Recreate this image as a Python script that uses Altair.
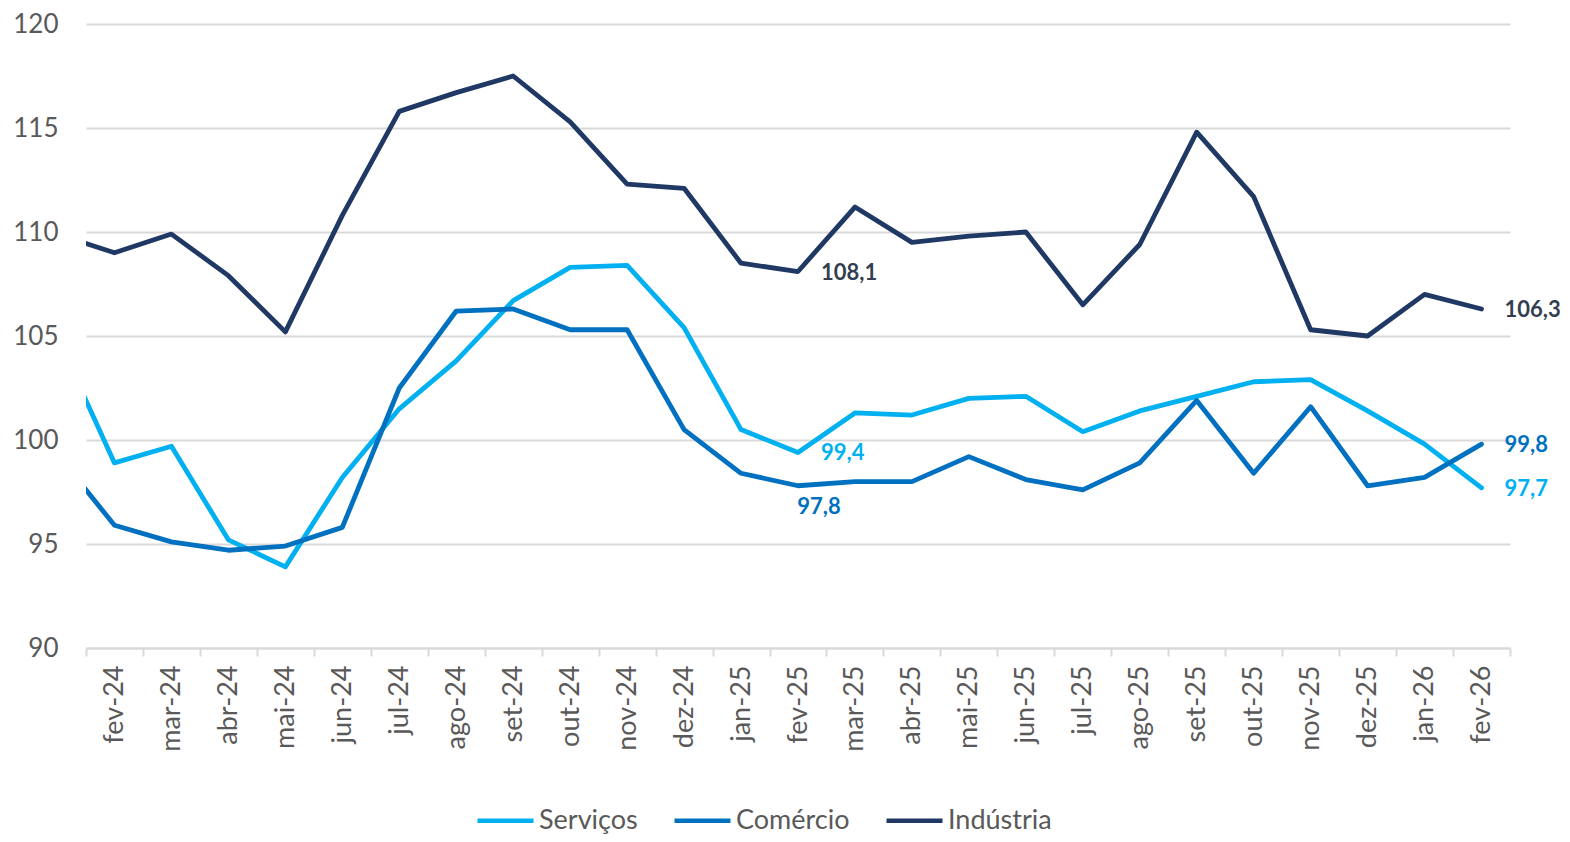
import json
import altair as alt
import pandas as pd

# ---- data (jan-24 lies just outside the visible axis; its segment is clipped) ----
months = ["jan-24", "fev-24", "mar-24", "abr-24", "mai-24", "jun-24", "jul-24", "ago-24",
          "set-24", "out-24", "nov-24", "dez-24", "jan-25", "fev-25", "mar-25", "abr-25",
          "mai-25", "jun-25", "jul-25", "ago-25", "set-25", "out-25", "nov-25", "dez-25",
          "jan-26", "fev-26"]
axis_labels = months[1:]
servicos = [104.9, 98.9, 99.7, 95.2, 93.9, 98.2, 101.5, 103.8, 106.7, 108.3, 108.4, 105.4,
            100.5, 99.4, 101.3, 101.2, 102.0, 102.1, 100.4, 101.4, 102.1, 102.8, 102.9,
            101.4, 99.8, 97.7]
comercio = [99.3, 95.9, 95.1, 94.7, 94.9, 95.8, 102.5, 106.2, 106.3, 105.3, 105.3, 100.5,
            98.4, 97.8, 98.0, 98.0, 99.2, 98.1, 97.6, 98.9, 101.9, 98.4, 101.6, 97.8, 98.2,
            99.8]
industria = [109.9, 109.0, 109.9, 107.9, 105.2, 110.8, 115.8, 116.7, 117.5, 115.3, 112.3,
             112.1, 108.5, 108.1, 111.2, 109.5, 109.8, 110.0, 106.5, 109.4, 114.8, 111.7,
             105.3, 105.0, 107.0, 106.3]
series_names = ["Serviços", "Comércio", "Indústria"]
y_ticks = [90, 95, 100, 105, 110, 115, 120]

# labelled points
right_labels = [("Indústria", "fev-25"), ("Serviços", "fev-25"),
                ("Indústria", "fev-26"), ("Comércio", "fev-26"), ("Serviços", "fev-26")]
below_labels = [("Comércio", "fev-25")]

# ---- styles ----
line_colors = ["#00B0F0", "#0070C0", "#1F3864"]
label_colors = {"Serviços": "#00B0F0", "Comércio": "#0070C0", "Indústria": "#333F50"}
FONT = "Lato"
TEXT_GRAY = "#595959"
GRID_GRAY = "#D9D9D9"

rows = []
for name, vals in zip(series_names, [servicos, comercio, industria]):
    for i, (m, v) in enumerate(zip(months, vals)):
        pos = ""
        if (name, m) in right_labels:
            pos = "right"
        elif (name, m) in below_labels:
            pos = "below"
        rows.append({"series": name, "month": m, "idx": i - 1, "value": v, "pos": pos})
df = pd.DataFrame(rows)

n = len(axis_labels)
tick_values = [k / 2 for k in range(-1, 2 * n)]
label_expr = ("datum.value % 1 === 0 ? " + json.dumps(axis_labels, ensure_ascii=False)
              + "[datum.value] : ''")

x_enc = alt.X(
    "idx:Q",
    scale=alt.Scale(domain=[-0.5, n - 0.5], nice=False, zero=False),
    axis=alt.Axis(
        values=tick_values, labelExpr=label_expr, title=None, grid=False,
        labelAngle=270, labelFontSize=27, labelFont=FONT, labelColor=TEXT_GRAY,
        labelPadding=9, labelOverlap=False, labelFlush=False,
        domainColor=GRID_GRAY, domainWidth=2, tickColor=GRID_GRAY, tickWidth=2, tickSize=8,
        tickOpacity={"condition": {"test": "datum.value % 1 === 0", "value": 0}, "value": 1},
    ),
)
y_enc = alt.Y(
    "value:Q",
    scale=alt.Scale(domain=[90, 120], nice=False, zero=False),
    axis=alt.Axis(
        values=y_ticks, title=None, grid=True, gridColor=GRID_GRAY, gridWidth=2,
        domain=False, ticks=False, tickSize=0, labelPadding=28,
        labelFontSize=26, labelFont=FONT, labelColor=TEXT_GRAY,
    ),
)
color_enc = alt.Color(
    "series:N",
    scale=alt.Scale(domain=series_names, range=line_colors),
    legend=alt.Legend(
        title=None, orient="none", direction="horizontal", legendX=389, legendY=766,
        symbolType="stroke", symbolSize=3136, symbolStrokeWidth=4.5,
        labelFontSize=27, labelFont=FONT, labelColor=TEXT_GRAY, labelOffset=3,
        columnPadding=27, symbolOffset=0,
    ),
)

base = alt.Chart(df)
layers = []
for s in series_names:
    layers.append(
        base.transform_filter(alt.datum.series == s)
        .mark_line(strokeWidth=4.8, strokeCap="round", strokeJoin="round", clip=True)
        .encode(x=x_enc, y=y_enc, color=color_enc)
    )

for s in series_names:
    layers.append(
        base.transform_filter((alt.datum.series == s) & (alt.datum.pos == "right"))
        .transform_calculate(lbl="replace(format(datum.value, '.1f'), '.', ',')")
        .mark_text(align="left", baseline="middle", dx=23, dy=1, fontSize=22,
                   fontWeight="bold", font=FONT, color=label_colors[s])
        .encode(x=x_enc, y=y_enc, text="lbl:N")
    )
    layers.append(
        base.transform_filter((alt.datum.series == s) & (alt.datum.pos == "below"))
        .transform_calculate(lbl="replace(format(datum.value, '.1f'), '.', ',')")
        .mark_text(align="center", baseline="middle", dx=21, dy=21, fontSize=22,
                   fontWeight="bold", font=FONT, color=label_colors[s])
        .encode(x=x_enc, y=y_enc, text="lbl:N")
    )

chart = (
    alt.layer(*layers)
    .properties(
        width=1424, height=624,
        autosize=alt.AutoSizeParams(type="none"),
        padding={"left": 78, "top": 16, "right": 52, "bottom": 186},
        background="white",
    )
    .configure_view(stroke=None)
)

chart.save("out.html", embed_options={"renderer": "svg", "actions": False})
